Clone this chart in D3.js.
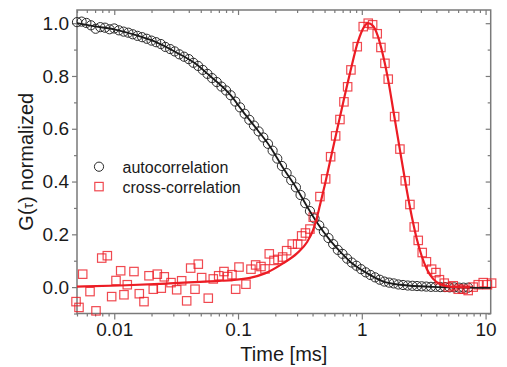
<!DOCTYPE html>
<html>
<head>
<meta charset="utf-8">
<script src="https://cdn.jsdelivr.net/npm/d3@7"></script>
<style>
  body { margin: 0; background: #fff; }
  svg { display: block; }
  text { font-family: Arial, "Liberation Sans", sans-serif; fill: #1a1a1a; }
</style>
</head>
<body>
<svg id="chart" width="507" height="367"></svg>
<script>
// lag times [ms] of the correlator (autocorrelation points)
const lagTimes = [
  0.00500, 0.00545, 0.00595, 0.00648, 0.00707, 0.00771, 0.00841, 0.00917, 0.0100, 0.0109,
  0.0119, 0.0130, 0.0141, 0.0154, 0.0168, 0.0183, 0.0200, 0.0218, 0.0238, 0.0259,
  0.0283, 0.0308, 0.0336, 0.0367, 0.0400, 0.0436, 0.0476, 0.0519, 0.0566, 0.0617,
  0.0673, 0.0734, 0.0800, 0.0872, 0.0951, 0.1038, 0.1131, 0.1234, 0.1345, 0.1467,
  0.160, 0.1745, 0.1903, 0.2075, 0.2263, 0.2468, 0.2691, 0.2935, 0.320, 0.349,
  0.381, 0.415, 0.453, 0.494, 0.538, 0.587, 0.640, 0.698, 0.761, 0.830,
  0.905, 0.987, 1.076, 1.174, 1.280, 1.396, 1.522, 1.660, 1.810, 1.974,
  2.153, 2.348, 2.560, 2.792, 3.044, 3.320, 3.620, 3.948, 4.305, 4.695,
  5.120, 5.584, 6.089, 6.640, 7.241
];
const autoValues = [
  1.004, 1.006, 1.001, 0.992, 0.979, 0.985, 0.983, 0.977, 0.980, 0.973,
  0.968, 0.964, 0.958, 0.952, 0.947, 0.941, 0.934, 0.928, 0.921, 0.910,
  0.902, 0.893, 0.882, 0.873, 0.864, 0.850, 0.838, 0.823, 0.808, 0.792,
  0.777, 0.760, 0.745, 0.727, 0.703, 0.681, 0.657, 0.634, 0.612, 0.590,
  0.567, 0.543, 0.517, 0.487, 0.459, 0.432, 0.405, 0.378, 0.349, 0.318,
  0.288, 0.260, 0.234, 0.210, 0.186, 0.163, 0.141, 0.126, 0.108, 0.093,
  0.081, 0.068, 0.056, 0.046, 0.037, 0.028, 0.021, 0.017, 0.014, 0.010,
  0.008, 0.006, 0.005, 0.004, 0.003, 0.002, 0.001, 0.001, 0.000, 0.000,
  -0.001, -0.001, -0.002, -0.002, -0.002
];

// cross-correlation points
const crossLag = [
  0.00491, 0.00519, 0.00556, 0.00637, 0.00712, 0.00792, 0.00879, 0.00953, 0.01033, 0.01127,
  0.01198, 0.01274, 0.01443, 0.01593, 0.01739, 0.01908, 0.02067, 0.02227, 0.02398, 0.02536,
  0.02873, 0.03194, 0.03505, 0.03847, 0.04144, 0.04491, 0.04774, 0.05085, 0.05748, 0.0631,
  0.06977, 0.07698, 0.08247, 0.08933, 0.0957, 0.1018, 0.1159, 0.1272, 0.1388, 0.1532,
  0.1651, 0.1788, 0.1951, 0.2102, 0.2294, 0.2471, 0.2742, 0.3032, 0.3266, 0.3505,
  0.3811, 0.4052, 0.4589, 0.5104, 0.5600, 0.6146, 0.6658, 0.7173, 0.7684, 0.8169,
  0.9187, 1.027, 1.127, 1.223, 1.332, 1.427, 1.538, 1.635, 1.842, 2.032,
  2.243, 2.448, 2.652, 2.857, 3.077, 3.327, 3.665, 3.971, 4.238, 4.634,
  4.991, 5.478, 6.012, 6.598, 7.238, 7.945, 8.719, 9.570, 10.35, 11.19
];
const crossValues = [
  -0.055, -0.077, 0.049, -0.017, -0.090, 0.110, 0.119, -0.036, 0.025, 0.062,
  -0.029, 0.009, 0.059, -0.025, -0.055, 0.043, -0.008, 0.049, -0.004, 0.039,
  0.017, -0.010, 0.024, -0.052, 0.072, -0.008, 0.087, 0.036, -0.042, 0.031,
  0.043, 0.059, 0.040, 0.047, -0.008, 0.076, 0.011, 0.068, 0.084, 0.078,
  0.069, 0.126, 0.101, 0.105, 0.114, 0.138, 0.163, 0.163, 0.194, 0.205,
  0.220, 0.265, 0.343, 0.410, 0.494, 0.573, 0.635, 0.702, 0.759, 0.823,
  0.911, 0.987, 1.000, 0.994, 0.960, 0.908, 0.848, 0.788, 0.646, 0.523,
  0.403, 0.313, 0.228, 0.177, 0.131, 0.096, 0.068, 0.055, 0.028, 0.015,
  0.000, 0.005, -0.008, -0.008, -0.013, 0.000, 0.009, 0.017, 0.009, 0.015
];

// fitted curves
const autoFitLag = [0.005, 0.00699, 0.01014, 0.0147, 0.02134, 0.03094, 0.0449, 0.0594, 0.0861, 0.1097,
  0.1422, 0.1811, 0.2307, 0.2992, 0.3671, 0.4341, 0.553, 0.666, 0.802, 1.100, 1.481, 2.032, 3.754, 11];
const autoFitValues = [1.0, 0.988, 0.976, 0.956, 0.93, 0.892, 0.848, 0.80, 0.73, 0.665,
  0.598, 0.533, 0.452, 0.372, 0.30, 0.245, 0.178, 0.135, 0.097, 0.053, 0.022, 0.009, 0.001, -0.003];
const crossFitLag = [0.005, 0.0111, 0.0234, 0.0493, 0.0861, 0.1249, 0.165, 0.2307, 0.2992, 0.3604,
  0.403, 0.426, 0.459, 0.504, 0.553, 0.666, 0.802, 0.931, 1.040, 1.121,
  1.230, 1.350, 1.481, 1.626, 1.818, 2.032, 2.273, 2.541, 2.789, 3.06,
  3.358, 3.754, 4.276, 4.964, 5.976, 7.47];
const crossFitValues = [0.002, 0.006, 0.012, 0.02, 0.026, 0.035, 0.052, 0.09, 0.128, 0.17,
  0.215, 0.25, 0.31, 0.39, 0.475, 0.645, 0.81, 0.93, 0.985, 1.0,
  0.99, 0.95, 0.88, 0.79, 0.655, 0.52, 0.385, 0.265, 0.18, 0.115,
  0.068, 0.032, 0.012, 0.003, 0.0, -0.001];

// axis ticks
const xMajorTicks = [0.01, 0.1, 1, 10];
const xTickLabels = ['0.01', '0.1', '1', '10'];
const yMajorTicks = [0, 0.2, 0.4, 0.6, 0.8, 1.0];
const yMinorTicks = [-0.1, 0.1, 0.3, 0.5, 0.7, 0.9];
const yTickLabels = ['0.0', '0.2', '0.4', '0.6', '0.8', '1.0'];
const seriesNames = ['autocorrelation', 'cross-correlation'];

const plot = { left: 77, right: 490.7, top: 10, bottom: 313.5 };
const axisColor = '#7a7a7a';
const red = '#ec1c24';

const svg = d3.select('#chart');

const x = d3.scaleLog().domain([0.005, 11]).range([plot.left, plot.right]);
const y = d3.scaleLinear().domain([-0.1, 1.05]).range([plot.bottom, plot.top]);

// minor ticks of the log axis, all except decades
const xMinorTicks = x.ticks().filter(d => Math.abs(Math.log10(d) - Math.round(Math.log10(d))) > 1e-6);

function styleAxis(g) {
  g.select('.domain').remove();
  g.selectAll('line').attr('stroke', axisColor).attr('stroke-width', 1.2);
  g.selectAll('text').attr('fill', '#1a1a1a').style('font-size', '19px');
}

// bottom axis (ticks outward)
svg.append('g').attr('transform', `translate(0,${plot.bottom})`)
  .call(d3.axisBottom(x).tickValues(xMinorTicks).tickSize(3).tickFormat(''))
  .call(styleAxis);
svg.append('g').attr('transform', `translate(0,${plot.bottom})`)
  .call(d3.axisBottom(x).tickValues(xMajorTicks).tickSize(6).tickPadding(3.5)
    .tickFormat((d, i) => xTickLabels[i]))
  .call(styleAxis);

// top axis (ticks inward)
svg.append('g').attr('transform', `translate(0,${plot.top})`)
  .call(d3.axisTop(x).tickValues(xMinorTicks).tickSize(-3).tickFormat(''))
  .call(styleAxis);
svg.append('g').attr('transform', `translate(0,${plot.top})`)
  .call(d3.axisTop(x).tickValues(xMajorTicks).tickSize(-5).tickFormat(''))
  .call(styleAxis);

// left axis (ticks outward)
svg.append('g').attr('transform', `translate(${plot.left},0)`)
  .call(d3.axisLeft(y).tickValues(yMinorTicks).tickSize(3).tickFormat(''))
  .call(styleAxis);
svg.append('g').attr('transform', `translate(${plot.left},0)`)
  .call(d3.axisLeft(y).tickValues(yMajorTicks).tickSize(5).tickPadding(3)
    .tickFormat((d, i) => yTickLabels[i]))
  .call(styleAxis);

// right axis (ticks inward)
svg.append('g').attr('transform', `translate(${plot.right},0)`)
  .call(d3.axisRight(y).tickValues(yMinorTicks).tickSize(-3).tickFormat(''))
  .call(styleAxis);
svg.append('g').attr('transform', `translate(${plot.right},0)`)
  .call(d3.axisRight(y).tickValues(yMajorTicks).tickSize(-5).tickFormat(''))
  .call(styleAxis);

// frame
svg.append('rect')
  .attr('x', plot.left).attr('y', plot.top)
  .attr('width', plot.right - plot.left).attr('height', plot.bottom - plot.top)
  .attr('fill', 'none').attr('stroke', axisColor).attr('stroke-width', 1.5);

const autoData = lagTimes.map((t, i) => ({ t: t, g: autoValues[i] }));
const crossData = crossLag.map((t, i) => ({ t: t, g: crossValues[i] }));
const autoFit = autoFitLag.map((t, i) => ({ t: t, g: autoFitValues[i] }));
const crossFit = crossFitLag.map((t, i) => ({ t: t, g: crossFitValues[i] }));

const sq = 8.4;

// autocorrelation circles
svg.append('g').selectAll('circle')
  .data(autoData).enter().append('circle')
  .attr('cx', d => x(d.t)).attr('cy', d => y(d.g))
  .attr('r', 4.6)
  .attr('fill', 'none').attr('stroke', '#2a2a2a').attr('stroke-width', 1);

// cross-correlation squares
svg.append('g').selectAll('rect')
  .data(crossData).enter().append('rect')
  .attr('x', d => x(d.t) - sq / 2).attr('y', d => y(d.g) - sq / 2)
  .attr('width', sq).attr('height', sq)
  .attr('fill', 'none').attr('stroke', red).attr('stroke-opacity', 0.8).attr('stroke-width', 1.2);

const line = d3.line().x(d => x(d.t)).y(d => y(d.g)).curve(d3.curveMonotoneX);

svg.append('path').datum(autoFit)
  .attr('d', line).attr('fill', 'none').attr('stroke', '#1a1a1a').attr('stroke-width', 1.8);

svg.append('path').datum(crossFit)
  .attr('d', line).attr('fill', 'none').attr('stroke', red).attr('stroke-width', 2.2);

// legend
const legend = svg.append('g');
legend.append('circle').attr('cx', 99).attr('cy', 166.7).attr('r', 4.6)
  .attr('fill', 'none').attr('stroke', '#2a2a2a').attr('stroke-width', 1);
legend.append('text').attr('x', 122.5).attr('y', 172.8).style('font-size', '16px').text(seriesNames[0]);
legend.append('rect').attr('x', 99 - sq / 2).attr('y', 186.6 - sq / 2).attr('width', sq).attr('height', sq)
  .attr('fill', 'none').attr('stroke', red).attr('stroke-opacity', 0.8).attr('stroke-width', 1.2);
legend.append('text').attr('x', 122.5).attr('y', 192.5).style('font-size', '16px').text(seriesNames[1]);

// axis titles
svg.append('text')
  .attr('x', (plot.left + plot.right) / 2).attr('y', 361)
  .attr('text-anchor', 'middle').style('font-size', '20px')
  .text('Time [ms]');

const yTitle = svg.append('text')
  .attr('transform', `translate(33,${(plot.top + plot.bottom) / 2}) rotate(-90)`)
  .attr('text-anchor', 'middle').style('font-size', '20px');
yTitle.append('tspan').text('G(');
yTitle.append('tspan').style('font-size', '14px').text('τ');
yTitle.append('tspan').text(') normalized');
</script>
</body>
</html>
